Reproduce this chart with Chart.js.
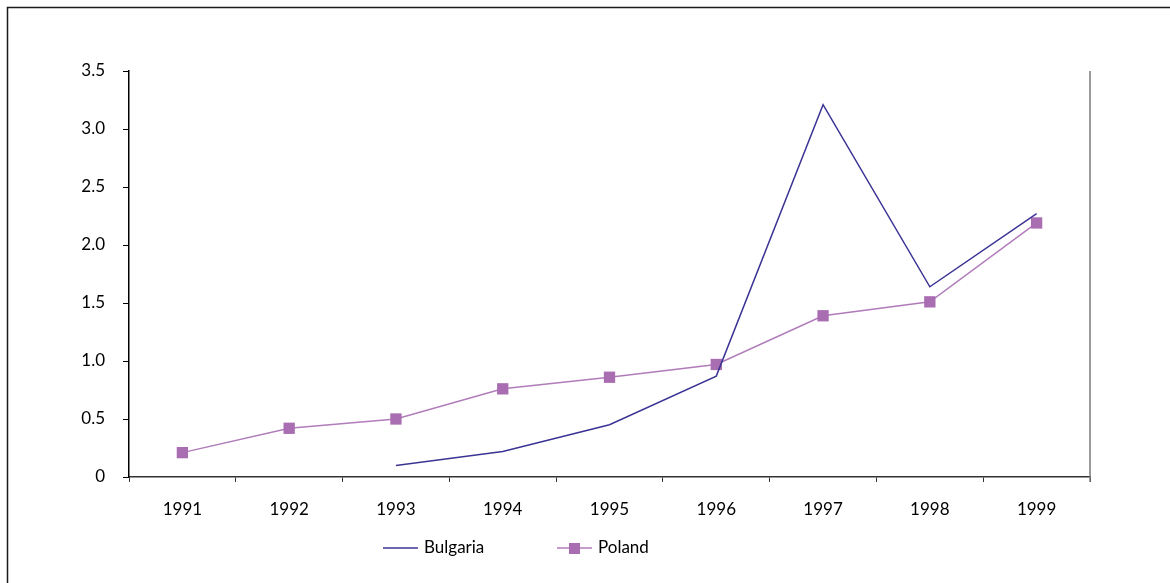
<!DOCTYPE html>
<html>
<head>
<meta charset="utf-8">
<script src="https://cdn.jsdelivr.net/npm/chart.js@4/dist/chart.umd.min.js"></script>
<style>
  html, body { margin: 0; padding: 0; background: #fff; }
  #wrap { width: 1170px; height: 583px; position: relative; }
</style>
</head>
<body>
<div id="wrap"><canvas id="c" width="1170" height="583"></canvas></div>
<script>
// Annual values by year
const years = ['1991', '1992', '1993', '1994', '1995', '1996', '1997', '1998', '1999'];
const bulgaria = [null, null, 0.10, 0.22, 0.45, 0.87, 3.21, 1.64, 2.27];
const poland = [0.21, 0.42, 0.50, 0.76, 0.86, 0.97, 1.39, 1.51, 2.19];
const yTicks = [0, 0.5, 1.0, 1.5, 2.0, 2.5, 3.0, 3.5];

const FONT = 'Lato, "Open Sans", sans-serif';
const BULGARIA_COLOR = '#3b3494';
const POLAND_LINE = '#b07cba';
const POLAND_MARK = '#a96db1';

// Outer frame, right-hand border line and a legend drawn under the axis
const decorations = {
  id: 'decorations',
  afterDraw(chart) {
    const ctx = chart.ctx;
    const area = chart.chartArea;
    ctx.save();
    // frame (top and left edges visible)
    ctx.strokeStyle = '#1a1a1a';
    ctx.lineWidth = 1.5;
    ctx.beginPath();
    ctx.moveTo(7.5, 600);
    ctx.lineTo(7.5, 7.5);
    ctx.lineTo(1200, 7.5);
    ctx.stroke();
    // right border of the plot
    ctx.strokeStyle = '#7a7a7a';
    ctx.lineWidth = 1.5;
    ctx.beginPath();
    ctx.moveTo(area.right, area.top);
    ctx.lineTo(area.right, area.bottom + 5);
    ctx.stroke();

    // legend
    const ly = 548;
    ctx.font = '17px ' + FONT;
    ctx.textBaseline = 'middle';
    ctx.fillStyle = '#000';
    const items = chart.data.datasets;
    const starts = [383, 557];
    items.forEach((ds, i) => {
      const x0 = starts[i];
      ctx.strokeStyle = ds.borderColor;
      ctx.lineWidth = 1.5;
      ctx.beginPath();
      ctx.moveTo(x0, ly);
      ctx.lineTo(x0 + 35, ly);
      ctx.stroke();
      if (ds.pointRadius > 0) {
        ctx.fillStyle = ds.pointBackgroundColor;
        ctx.fillRect(x0 + 12, ly - 5, 11, 11);
      }
      ctx.fillStyle = '#000';
      ctx.textAlign = 'left';
      ctx.fillText(ds.label, x0 + 41, ly);
    });
    ctx.restore();
  }
};

new Chart(document.getElementById('c'), {
  type: 'line',
  data: {
    labels: years,
    datasets: [
      {
        label: 'Bulgaria',
        data: bulgaria,
        borderColor: BULGARIA_COLOR,
        backgroundColor: BULGARIA_COLOR,
        borderWidth: 1.5,
        pointRadius: 0,
        pointHoverRadius: 0,
        tension: 0,
        spanGaps: false
      },
      {
        label: 'Poland',
        data: poland,
        borderColor: POLAND_LINE,
        backgroundColor: POLAND_MARK,
        pointBackgroundColor: POLAND_MARK,
        pointBorderColor: POLAND_MARK,
        pointBorderWidth: 0,
        borderWidth: 1.5,
        pointStyle: 'rect',
        pointRadius: 8,
        pointHoverRadius: 8,
        tension: 0
      }
    ]
  },
  options: {
    responsive: false,
    animation: false,
    devicePixelRatio: 1,
    layout: { padding: { top: 71, right: 80, left: 0, bottom: 0 } },
    plugins: {
      legend: { display: false },
      tooltip: { enabled: false }
    },
    scales: {
      x: {
        type: 'category',
        offset: true,
        grid: {
          offset: true,
          drawOnChartArea: false,
          drawTicks: true,
          tickLength: 5,
          color: '#333',
          lineWidth: 1
        },
        border: { display: true, color: '#333', width: 1.5 },
        ticks: {
          color: '#000',
          font: { family: FONT, size: 17 },
          padding: 17,
          maxRotation: 0,
          autoSkip: false
        },
        afterFit(scale) { scale.height = 106; }
      },
      y: {
        min: 0,
        max: 3.5,
        afterBuildTicks(scale) {
          scale.ticks = yTicks.map(v => ({ value: v }));
        },
        grid: {
          drawOnChartArea: false,
          drawTicks: true,
          tickLength: 6,
          color: '#000',
          lineWidth: 1
        },
        border: { display: true, color: '#000', width: 1.5 },
        ticks: {
          color: '#000',
          font: { family: FONT, size: 17 },
          padding: 18,
          callback: v => (v === 0 ? '0' : Number(v).toFixed(1))
        },
        afterFit(scale) { scale.width = 129; }
      }
    }
  },
  plugins: [decorations]
});
</script>
</body>
</html>
